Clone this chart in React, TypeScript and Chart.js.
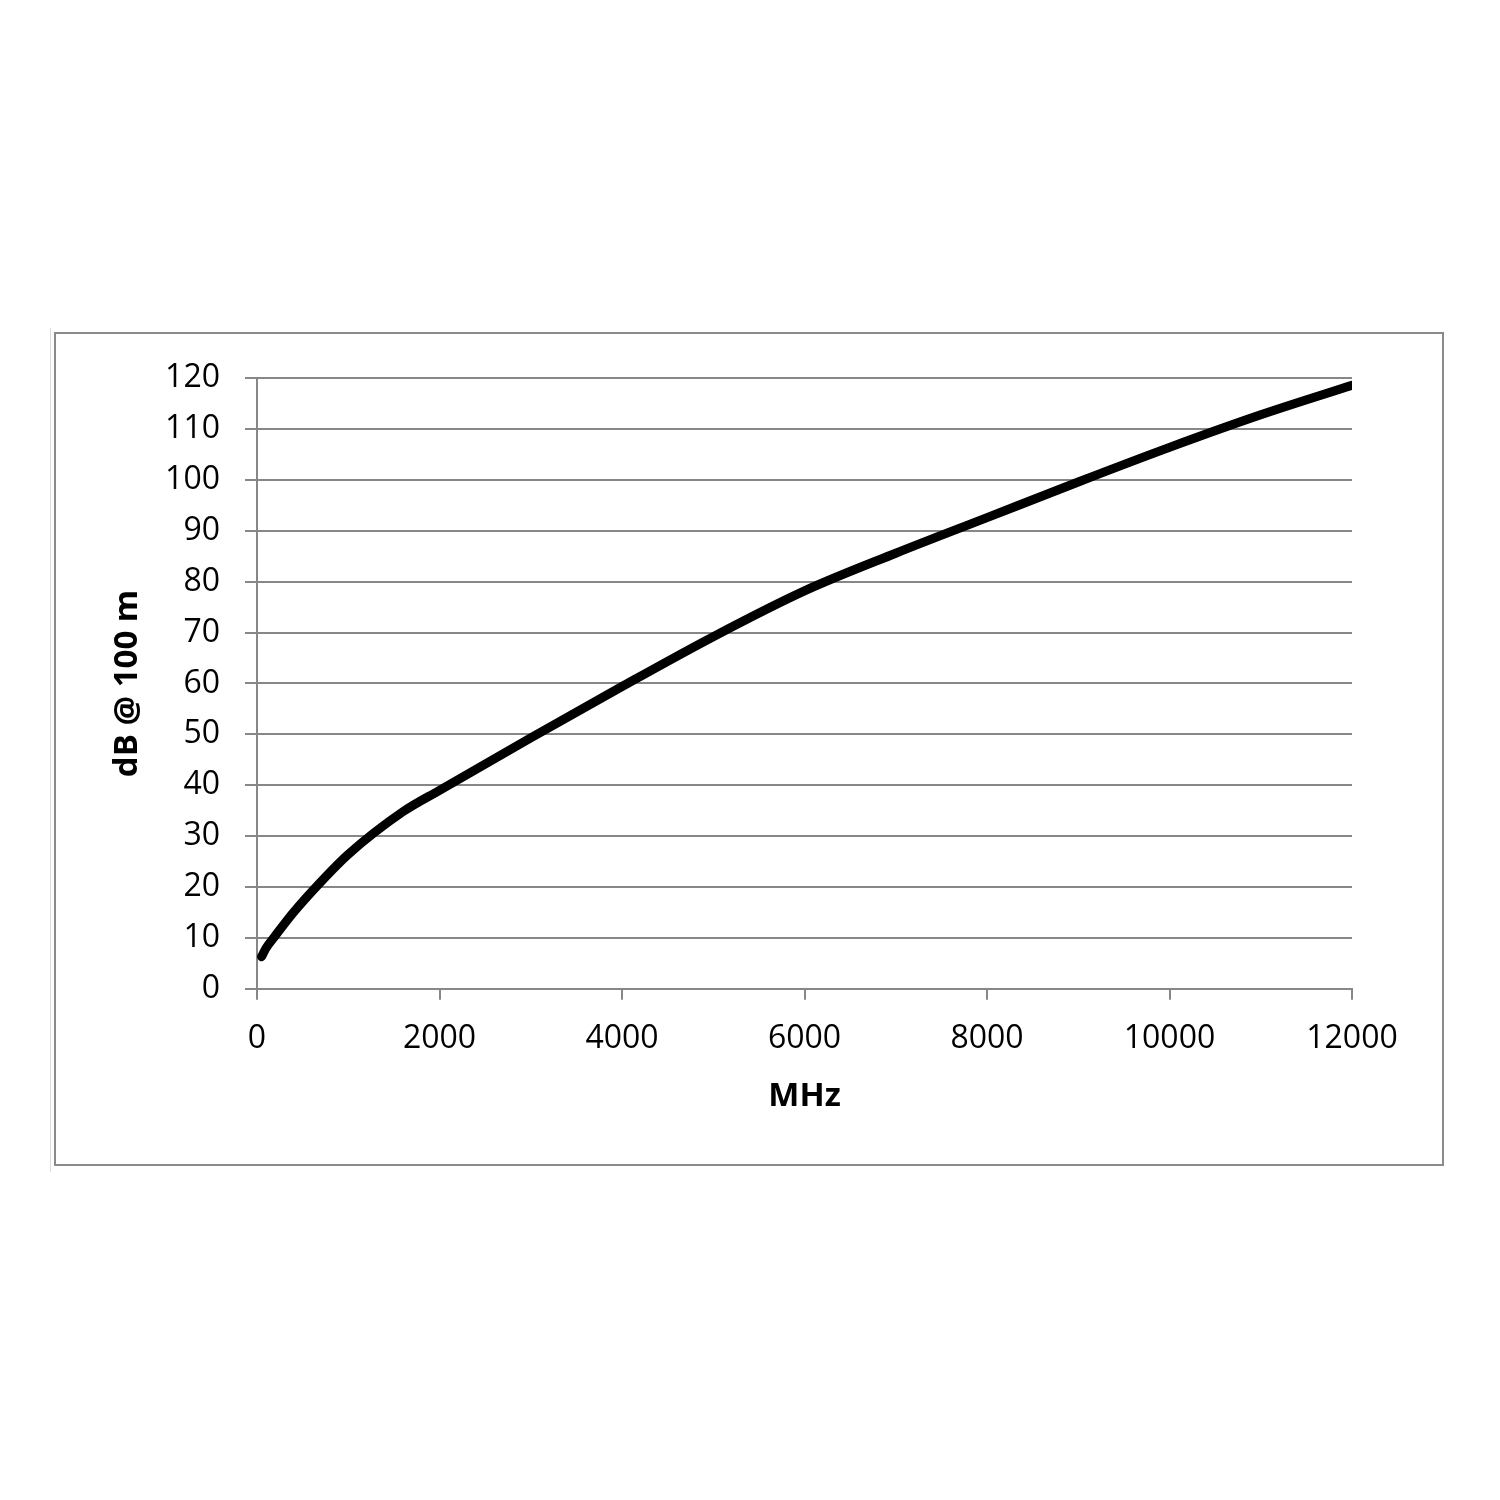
import { useEffect, useRef } from 'react';
import Chart from 'chart.js/auto';

// attenuation curve
const freqMHz = [50, 100, 200, 400, 700, 1000, 1600, 2000, 3000, 4000, 5000, 6000, 7000, 8000, 9000, 10000, 11000, 12000];
const lossDb = [6.3, 8.0, 10.4, 15.0, 21.0, 26.4, 34.8, 39.0, 49.3, 59.4, 69.2, 78.2, 85.6, 92.6, 99.6, 106.4, 112.8, 118.6];

const xTitle = 'MHz';
const yTitle = 'dB @ 100 m';
const gridGray = '#878787';
const fontFamily = '"Open Sans", sans-serif';

export default function App() {
  const canvasRef = useRef<HTMLCanvasElement>(null);
  const chartRef = useRef<Chart | null>(null);

  useEffect(() => {
    if (!canvasRef.current) return;
    if (chartRef.current) chartRef.current.destroy();

    chartRef.current = new Chart(canvasRef.current, {
      type: 'line',
      data: {
        datasets: [
          {
            data: freqMHz.map((f, i) => ({ x: f, y: lossDb[i] })),
            borderColor: '#000000',
            borderWidth: 9,
            borderCapStyle: 'round',
            borderJoinStyle: 'round',
            pointRadius: 0,
            cubicInterpolationMode: 'monotone',
            fill: false,
          },
        ],
      },
      options: {
        responsive: false,
        animation: false,
        devicePixelRatio: 1,
        layout: { padding: { left: 0, top: 43, right: 90, bottom: 0 } },
        plugins: {
          legend: { display: false },
          tooltip: { enabled: false },
        },
        scales: {
          x: {
            type: 'linear',
            min: 0,
            max: 12000,
            afterFit: (scale: any) => {
              scale.height = 175.3;
            },
            ticks: {
              stepSize: 2000,
              color: '#000',
              padding: 20,
              maxRotation: 0,
              font: { family: fontFamily, size: 32 },
              callback: (value: any) => String(value),
            },
            grid: {
              drawOnChartArea: false,
              drawTicks: true,
              tickLength: 11,
              color: gridGray,
              lineWidth: 2,
            },
            border: { display: true, color: gridGray, width: 2 },
            title: {
              display: true,
              text: xTitle,
              color: '#000',
              font: { family: fontFamily, size: 33, weight: 'bold' },
              padding: { top: 0, bottom: 48 },
            },
          },
          y: {
            type: 'linear',
            min: 0,
            max: 120,
            afterFit: (scale: any) => {
              scale.width = 201;
            },
            ticks: {
              stepSize: 10,
              color: '#000',
              padding: 25,
              font: { family: fontFamily, size: 32 },
              callback: (value: any) => String(value),
            },
            grid: {
              drawOnChartArea: true,
              drawTicks: true,
              tickLength: 12,
              color: gridGray,
              lineWidth: 2,
            },
            border: { display: true, color: gridGray, width: 2 },
            title: {
              display: true,
              text: yTitle,
              color: '#000',
              font: { family: fontFamily, size: 33, weight: 'bold' },
              padding: { top: 52, bottom: 0 },
            },
          },
        },
      },
    });

    return () => {
      if (chartRef.current) {
        chartRef.current.destroy();
        chartRef.current = null;
      }
    };
  }, []);

  return (
    <div style={{ position: 'absolute', left: 0, top: 0, width: 1500, height: 1500, background: '#fff' }}>
      <div
        style={{
          position: 'absolute',
          left: 50,
          top: 328,
          width: 1,
          height: 844,
          background: '#dcdcdc',
        }}
      />
      <div
        style={{
          position: 'absolute',
          left: 54,
          top: 332,
          width: 1390,
          height: 834,
          border: '2px solid #8a8a8a',
          boxSizing: 'border-box',
        }}
      />
      <canvas
        ref={canvasRef}
        width={1386}
        height={830}
        style={{ position: 'absolute', left: 56, top: 334, width: 1386, height: 830 }}
      />
    </div>
  );
}
